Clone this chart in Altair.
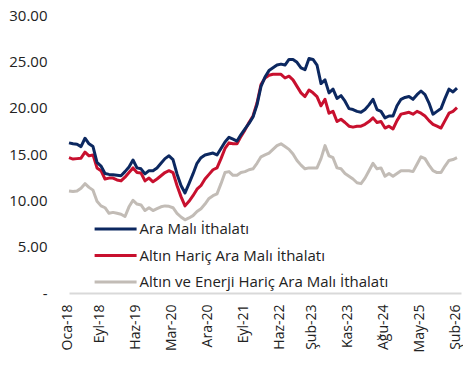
import altair as alt
import pandas as pd

month_names = ["Oca", "Şub", "Mar", "Nis", "May", "Haz", "Tem", "Ağu", "Eyl", "Eki", "Kas", "Ara"]
n_months = 98
month_labels = [f"{month_names[i % 12]}-{18 + i // 12}" for i in range(n_months)]
tick_idx = [0, 8, 17, 26, 35, 44, 53, 61, 70, 79, 88, 97]

ara_mali = [16.2, 16.1, 16.05, 15.8, 16.7, 16.1, 15.8, 14.1, 13.7, 12.9,
            12.8, 12.75, 12.7, 12.65, 13.1, 13.6, 14.35, 13.5, 13.4, 12.85,
            13.2, 13.2, 13.5, 14.0, 14.5, 14.8, 14.4, 12.85, 11.6, 10.8,
            11.8, 12.85, 14.0, 14.6, 14.9, 15.0, 15.1, 14.9, 15.6, 16.3,
            16.8, 16.6, 16.4, 17.1, 17.7, 18.3, 19.0, 20.3, 22.3, 23.3,
            24.0, 24.3, 24.6, 24.7, 24.6, 25.2, 25.2, 24.9, 24.3, 24.1,
            25.3, 25.2, 24.6, 22.6, 23.0, 21.6, 22.0, 21.0, 21.3, 20.7,
            19.9, 19.8, 19.6, 19.5, 19.8, 20.3, 20.9, 19.8, 19.6, 18.9,
            19.1, 19.1, 20.2, 20.9, 21.1, 21.2, 20.9, 21.4, 21.8, 21.4,
            20.5, 19.3, 19.6, 19.9, 21.0, 22.0, 21.7, 22.1]

altin_haric = [14.6, 14.45, 14.5, 14.55, 15.2, 14.8, 14.9, 13.5, 13.2, 12.3,
               12.4, 12.4, 12.2, 12.1, 12.5, 13.0, 13.5, 13.0, 12.95, 12.1,
               12.4, 12.0, 12.3, 12.65, 13.0, 13.2, 13.0, 11.6, 10.4, 9.4,
               9.9, 10.5, 11.2, 11.6, 12.3, 12.8, 13.3, 13.5, 14.5, 15.6,
               16.2, 16.1, 16.1, 16.9, 17.6, 18.4, 19.1, 20.5, 22.5, 23.2,
               23.5, 23.6, 23.6, 23.6, 23.2, 23.4, 23.0, 22.3, 21.6, 21.2,
               21.9, 21.6, 21.2, 20.2, 20.9, 19.4, 19.6, 18.5, 18.75, 18.4,
               18.0, 17.9, 18.0, 18.0, 18.2, 18.5, 18.9, 18.4, 18.5, 17.8,
               18.0, 17.7, 18.6, 19.3, 19.4, 19.5, 19.3, 19.6, 19.4, 19.1,
               18.6, 18.2, 18.0, 17.8, 18.6, 19.4, 19.6, 20.0]

altin_enerji_haric = [11.0, 10.95, 11.0, 11.3, 11.8, 11.4, 11.1, 9.9, 9.4, 9.2,
                      8.6, 8.7, 8.6, 8.5, 8.25, 9.3, 10.0, 9.6, 9.5, 8.9,
                      9.2, 8.9, 9.1, 9.3, 9.4, 9.35, 9.2, 8.6, 8.2, 7.9,
                      8.1, 8.35, 8.8, 9.1, 9.6, 10.2, 10.5, 10.7, 11.8, 13.0,
                      13.1, 12.7, 12.7, 13.0, 13.1, 13.3, 13.4, 14.0, 14.7, 14.9,
                      15.1, 15.5, 15.9, 16.1, 15.8, 15.5, 15.0, 14.3, 13.8, 13.4,
                      13.5, 13.5, 13.5, 14.5, 15.9, 14.8, 14.6, 13.5, 13.4, 12.9,
                      12.6, 12.3, 11.9, 11.8, 12.4, 13.2, 14.0, 13.4, 13.5, 12.6,
                      12.9, 12.6, 12.9, 13.2, 13.2, 13.2, 13.1, 13.9, 14.7, 14.5,
                      13.8, 13.2, 13.0, 13.0, 13.7, 14.3, 14.4, 14.6]

series_names = ["Ara Malı İthalatı", "Altın Hariç Ara Malı İthalatı",
                "Altın ve Enerji Hariç Ara Malı İthalatı"]
series_colors = ["#0c2860", "#c8102e", "#c2bcb6"]
series_values = [ara_mali, altin_haric, altin_enerji_haric]

rows = []
for name, vals in zip(series_names, series_values):
    for i, v in enumerate(vals):
        rows.append({"idx": i, "label": month_labels[i], "series": name, "value": v})
df = pd.DataFrame(rows)

label_map = "{" + ", ".join(f"'{i}': '{month_labels[i]}'" for i in tick_idx) + "}"

FONT = "Open Sans"

x_enc = alt.X("idx:Q",
              scale=alt.Scale(domain=[0, 98], nice=False, zero=False),
              axis=alt.Axis(values=tick_idx, labelExpr=f"{label_map}[datum.value + '']",
                            labelAngle=270, labelAlign="right", labelBaseline="middle",
                            labelPadding=11, labelOffset=-2, ticks=False, grid=False,
                            domainColor="#d9d9d9", domainWidth=2,
                            labelFontSize=14, labelColor="#222222", labelFont=FONT,
                            title=None))
y_enc = alt.Y("value:Q",
              scale=alt.Scale(domain=[0, 30], nice=False),
              axis=alt.Axis(values=[0, 5, 10, 15, 20, 25, 30],
                            labelExpr="datum.value == 0 ? '-\u00a0\u00a0' : format(datum.value, '.2f')",
                            domain=False, ticks=False, grid=False, labelPadding=22,
                            labelFontSize=15, labelColor="#222222", labelFont=FONT,
                            title=None))
color_enc = alt.Color("series:N",
                      scale=alt.Scale(domain=series_names, range=series_colors),
                      legend=alt.Legend(orient="none", legendX=36.6, legendY=204,
                                        title=None, symbolType="M-2.5,0H2.5",
                                        symbolSize=282, symbolStrokeWidth=3,
                                        labelFontSize=15, labelFont=FONT, labelLimit=400,
                                        labelColor="#222222", rowPadding=8.5,
                                        labelOffset=14, padding=0))

layers = []
for name in reversed(series_names):
    layers.append(
        alt.Chart(df[df["series"] == name]).mark_line(strokeWidth=3, strokeJoin="round")
        .encode(x=x_enc, y=y_enc, color=color_enc)
    )

chart = alt.layer(*layers).properties(
    width=392, height=278,
    padding={"left": 61, "top": 7, "right": 2, "bottom": 65},
    autosize=alt.AutoSizeParams(type="none"),
).configure_view(stroke=None)

chart.save("out.html", embed_options={"renderer": "svg", "actions": False})
